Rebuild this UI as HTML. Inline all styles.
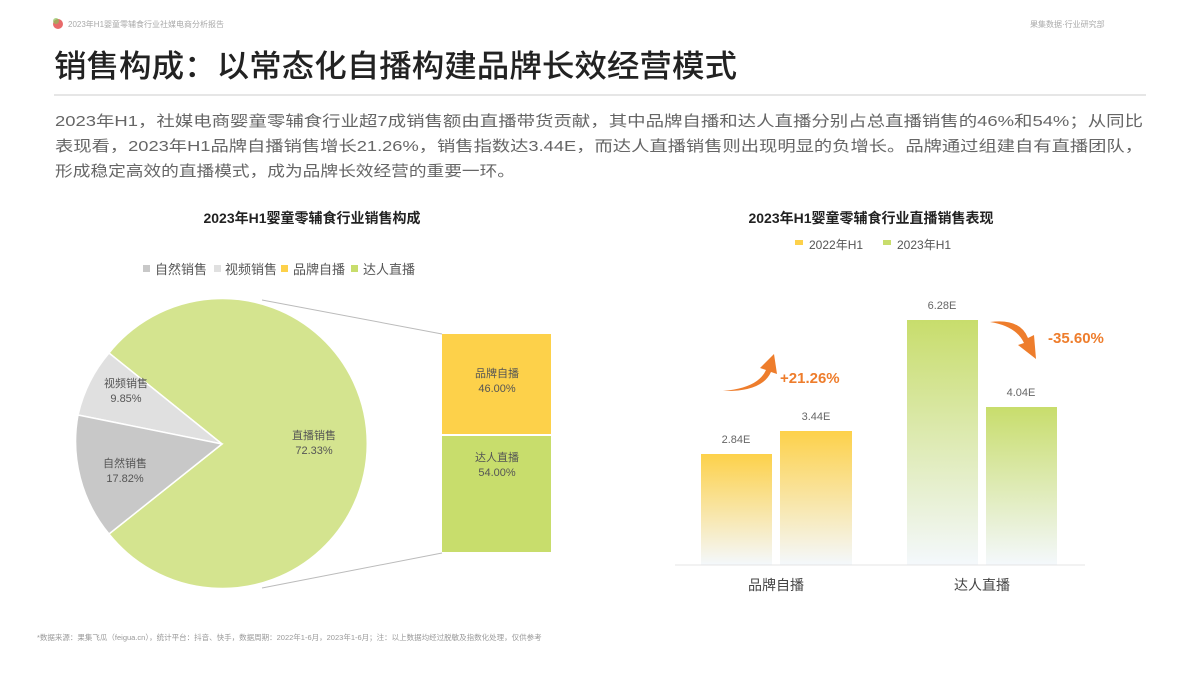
<!DOCTYPE html>
<html><head><meta charset="utf-8"><style>
html,body{margin:0;padding:0;background:#fff;}
svg{display:block;font-family:"Liberation Sans","Noto Sans CJK SC",sans-serif;}
</style></head><body>
<svg width="1200" height="675" viewBox="0 0 1200 675" xmlns="http://www.w3.org/2000/svg">
<defs>
<linearGradient id="gy" x1="0" y1="0" x2="0" y2="1"><stop offset="0" stop-color="#fdd14a"/><stop offset="1" stop-color="#f4f8fc"/></linearGradient>
<linearGradient id="gg" x1="0" y1="0" x2="0" y2="1"><stop offset="0" stop-color="#c8dd6c"/><stop offset="1" stop-color="#f4f8fc"/></linearGradient>
</defs>
<circle cx="58" cy="24" r="5" fill="#e86a6a"/><circle cx="56" cy="21" r="3" fill="#8cc05a" opacity="0.7"/>
<text x="68" y="27" font-size="8" fill="#aaa">2023年H1婴童零辅食行业社媒电商分析报告</text>
<text x="1030" y="27" font-size="8" fill="#aaa">果集数据·行业研究部</text>
<text x="54" y="77" font-size="31" font-weight="500" fill="#222" textLength="683" lengthAdjust="spacingAndGlyphs">销售构成：以常态化自播构建品牌长效经营模式</text>
<line x1="54" y1="95" x2="1146" y2="95" stroke="#ddd" stroke-width="1.5"/>
<g font-size="15" fill="#666">
<text x="55" y="126" textLength="1088" lengthAdjust="spacingAndGlyphs">2023年H1，社媒电商婴童零辅食行业超7成销售额由直播带货贡献，其中品牌自播和达人直播分别占总直播销售的46%和54%；从同比</text>
<text x="55" y="151" textLength="1088" lengthAdjust="spacingAndGlyphs">表现看，2023年H1品牌自播销售增长21.26%，销售指数达3.44E，而达人直播销售则出现明显的负增长。品牌通过组建自有直播团队，</text>
<text x="55" y="176" textLength="460" lengthAdjust="spacingAndGlyphs">形成稳定高效的直播模式，成为品牌长效经营的重要一环。</text>
</g>
<text x="312" y="223" font-size="14" font-weight="bold" fill="#222" text-anchor="middle">2023年H1婴童零辅食行业销售构成</text>
<g font-size="13" fill="#555">
<rect x="143" y="265" width="7" height="7" fill="#c8c8c8"/><text x="155" y="274" textLength="52" lengthAdjust="spacingAndGlyphs">自然销售</text>
<rect x="214" y="265" width="7" height="7" fill="#e0e0e0"/><text x="225" y="274" textLength="52" lengthAdjust="spacingAndGlyphs">视频销售</text>
<rect x="281" y="265" width="7" height="7" fill="#fdd14a"/><text x="293" y="274" textLength="52" lengthAdjust="spacingAndGlyphs">品牌自播</text>
<rect x="351" y="265" width="7" height="7" fill="#c8dd6c"/><text x="363" y="274" textLength="52" lengthAdjust="spacingAndGlyphs">达人直播</text>
</g>
<!-- pie -->
<path d="M222,444 L109,353 A145,145 0 1 1 109,534 Z" fill="#d4e48f" stroke="#fff" stroke-width="1.5"/>
<path d="M222,444 L109,353 A145,145 0 0 0 78,415 Z" fill="#e0e0e0" stroke="#fff" stroke-width="1.5"/>
<path d="M222,444 L78,415 A145,145 0 0 0 109,534 Z" fill="#c8c8c8" stroke="#fff" stroke-width="1.5"/>
<line x1="262" y1="300" x2="442" y2="334" stroke="#bbb"/>
<line x1="262" y1="588" x2="442" y2="553" stroke="#bbb"/>
<rect x="442" y="334" width="109" height="100" fill="#fdd14a"/>
<rect x="442" y="436" width="109" height="116" fill="#c8dd6c"/>
<g font-size="11" fill="#555" text-anchor="middle">
<text x="126" y="387">视频销售</text><text x="126" y="402">9.85%</text>
<text x="125" y="467">自然销售</text><text x="125" y="482">17.82%</text>
<text x="314" y="439">直播销售</text><text x="314" y="454">72.33%</text>
<text x="497" y="377">品牌自播</text><text x="497" y="392">46.00%</text>
<text x="497" y="461">达人直播</text><text x="497" y="476">54.00%</text>
</g>
<!-- bars -->
<text x="871" y="223" font-size="14" font-weight="bold" fill="#222" text-anchor="middle">2023年H1婴童零辅食行业直播销售表现</text>
<g font-size="12" fill="#555">
<rect x="795" y="240" width="8" height="5" fill="#fdd14a"/><text x="809" y="249">2022年H1</text>
<rect x="883" y="240" width="8" height="5" fill="#c8dd6c"/><text x="897" y="249">2023年H1</text>
</g>
<rect x="701" y="454" width="71" height="111" fill="url(#gy)"/>
<rect x="780" y="431" width="72" height="134" fill="url(#gy)"/>
<rect x="907" y="320" width="71" height="245" fill="url(#gg)"/>
<rect x="986" y="407" width="71" height="158" fill="url(#gg)"/>
<line x1="675" y1="565" x2="1085" y2="565" stroke="#e5e5e5"/>
<g font-size="11" fill="#666" text-anchor="middle">
<text x="736" y="443">2.84E</text><text x="816" y="420">3.44E</text>
<text x="942" y="309">6.28E</text><text x="1021" y="396">4.04E</text>
</g>
<g font-size="14" fill="#444" text-anchor="middle">
<text x="776" y="590">品牌自播</text><text x="982" y="590">达人直播</text>
</g>
<path d="M723,391 Q758,388 766,370 L760,368 L774,354 L777,374 L771,372 Q762,392 723,391 Z" fill="#ee7d2c"/>
<path d="M990,322 Q1020,318 1028,338 L1034,335 L1036,359 L1018,345 L1024,343 Q1016,326 990,322 Z" fill="#ee7d2c"/>
<text x="780" y="383" font-size="15" font-weight="bold" fill="#ee7d2c">+21.26%</text>
<text x="1048" y="343" font-size="15" font-weight="bold" fill="#ee7d2c">-35.60%</text>
<text x="37" y="640" font-size="7.5" fill="#999">*数据来源：果集飞瓜（feigua.cn），统计平台：抖音、快手，数据周期：2022年1-6月，2023年1-6月；注：以上数据均经过脱敏及指数化处理，仅供参考</text>
</svg>
</body></html>
